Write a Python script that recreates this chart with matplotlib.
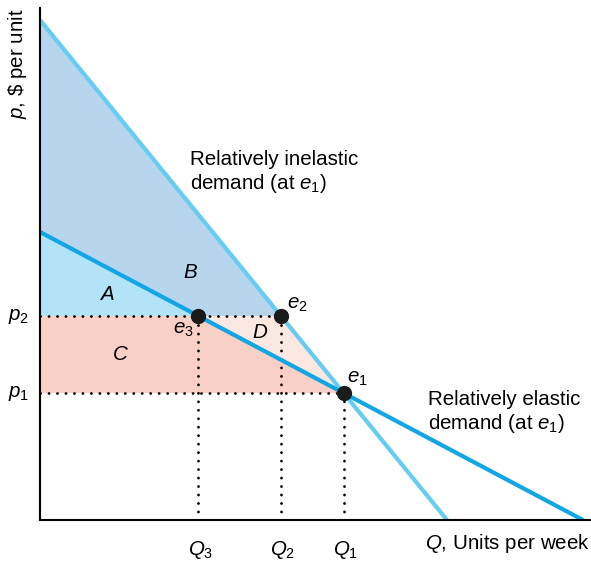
import numpy as np
import matplotlib
matplotlib.use('Agg')
import matplotlib.pyplot as plt

# font setup
plt.rcParams['font.family'] = ['Liberation Sans', 'DejaVu Sans']
plt.rcParams['mathtext.fontset'] = 'custom'
plt.rcParams['mathtext.rm'] = 'Liberation Sans'
plt.rcParams['mathtext.it'] = 'Liberation Sans:italic'

# demand curves: price intercept and quantity intercept
steep_p0, steep_q0 = 500.0, 407.0   # relatively inelastic
flat_p0, flat_q0 = 288.0, 543.0     # relatively elastic

# price levels
p2 = 204.0

# axis extents
xmax, ymax = 550.0, 512.0

def steep(q):
    return steep_p0*(1-q/steep_q0)

def flat(q):
    return flat_p0*(1-q/flat_q0)

# equilibrium points
# e1: intersection of both curves
Q1 = (steep_p0-flat_p0)/(steep_p0/steep_q0-flat_p0/flat_q0)
p1 = steep(Q1)
# e2: steep curve at p2, e3: flat curve at p2
Q2 = steep_q0*(1-p2/steep_p0)
Q3 = flat_q0*(1-p2/flat_p0)

fig=plt.figure(figsize=(5.91,5.61),dpi=100)
ax=fig.add_axes([40/591, 41/561, 550/591, 512/561])
ax.set_xlim(0,xmax)
ax.set_ylim(0,ymax)

# shaded areas
ax.fill([0,Q2,Q3,0],[steep_p0,p2,p2,flat_p0],color='#b8d5ee',lw=0)      # B
ax.fill([0,Q3,0],[flat_p0,p2,p2],color='#b3e3f7',lw=0)                  # A
ax.fill([0,Q3,Q1,0],[p2,p2,p1,p1],color='#f9d0c6',lw=0)                 # C
ax.fill([Q3,Q2,Q1],[p2,p2,p1],color='#fbe9e1',lw=0)                     # D

# dotted guides
dots=dict(color='black',lw=2.0,dashes=(0.05,3.0),dash_capstyle='round')
ax.plot([0,Q2],[p2,p2],**dots)
ax.plot([0,Q1],[p1,p1],**dots)
for q,p in [(Q3,p2),(Q2,p2),(Q1,p1)]:
    ax.plot([q,q],[0,p],**dots)

# demand curves
q=np.array([0,steep_q0])
ax.plot(q,steep(q),color='#66ccf2',lw=3,solid_capstyle='butt')
q=np.array([0,flat_q0])
ax.plot(q,flat(q),color='#12a6e4',lw=3,solid_capstyle='butt')

# equilibrium dots
ax.plot([Q1,Q2,Q3],[p1,p2,p2],'o',color='#1a1a1a',ms=10,zorder=5)

# axes
for s in ['top','right']:
    ax.spines[s].set_visible(False)
for s in ['left','bottom']:
    ax.spines[s].set_linewidth(1.5)
ax.set_xticks([])
ax.set_yticks([])

fs=14.8
ax.text(-22,ymax,'$p$, \\$ per unit',rotation=90,ha='center',va='top',fontsize=fs,clip_on=False)
ax.text(xmax,-12,'$Q$, Units per week',ha='right',va='top',fontsize=fs,clip_on=False)
ax.text(-21,p2,'$p_2$',ha='center',va='center',fontsize=fs,clip_on=False)
ax.text(-21,p1,'$p_1$',ha='center',va='center',fontsize=fs,clip_on=False)
for qq,lab in [(Q3,'$Q_3$'),(Q2,'$Q_2$'),(Q1,'$Q_1$')]:
    ax.text(qq+2,-19,lab,ha='center',va='top',fontsize=fs,clip_on=False)

ax.text(Q1+3,p1+5,'$e_1$',ha='left',va='bottom',fontsize=fs)
ax.text(Q2+6,p2+2,'$e_2$',ha='left',va='bottom',fontsize=fs)
ax.text(Q3-5,p2-4,'$e_3$',ha='right',va='top',fontsize=fs)

ax.text(67,225,'$A$',ha='center',va='center',fontsize=fs)
ax.text(150,248,'$B$',ha='center',va='center',fontsize=fs)
ax.text(80,165,'$C$',ha='center',va='center',fontsize=fs)
ax.text(220,188,'$D$',ha='center',va='center',fontsize=fs)

ax.text(150,370,'Relatively inelastic\ndemand (at $e_1$)',ha='left',va='top',fontsize=fs,linespacing=1.2)
ax.text(388,130,'Relatively elastic\ndemand (at $e_1$)',ha='left',va='top',fontsize=fs,linespacing=1.2)

plt.savefig('out.png',dpi=100)
print('plot done')
